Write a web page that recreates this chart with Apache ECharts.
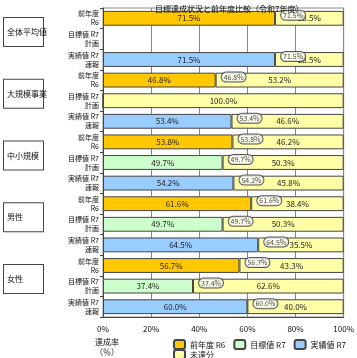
<!DOCTYPE html>
<html><head><meta charset="utf-8">
<script src="https://cdn.jsdelivr.net/npm/echarts@6/dist/echarts.min.js"></script>
<style>html,body{margin:0;padding:0;background:#fff}#c{width:357px;height:358px}</style>
</head><body><div id="c"></div>
<script>
const titleText = '目標達成状況と前年度比較（令和7年度）';
const groups = ['全体平均値', '大規模事業', '中小規模', '男性', '女性'];
const rowNames = ['前年度\nR6', '目標値 R7\n計画', '実績値 R7\n速報'];
const seriesNames = ['前年度 R6', '目標値 R7', '実績値 R7', '未達分'];
const bubbleName = '達成率\n（％）';
const orangeVals = [71.5, 46.8, 53.8, 61.6, 56.7];
const greenVals  = [null, 0, 49.7, 49.7, 37.4];
const blueVals   = [71.5, 53.4, 54.2, 64.5, 60.0];
const yellowOrange = [28.5, 53.2, 46.2, 38.4, 43.3];
const yellowGreen  = [null, 100, 50.3, 50.3, 62.6];
const yellowBlue   = [28.5, 46.6, 45.8, 35.5, 40.0];
const xTicks = [0, 20, 40, 60, 80, 100];

const colors = ['#FFC800', '#CCFFCC', '#99CCFF', '#FFFFA8'];
const rowIdx = [];
for (let g = 0; g < groups.length; g++) for (let r = 0; r < 3; r++) rowIdx.push(String(g * 3 + r));
const colored = [orangeVals, greenVals, blueVals];
const yellows = [yellowOrange, yellowGreen, yellowBlue];
function rowData(arr, r) {
  return rowIdx.map((_, i) => (i % 3 === r ? arr[Math.floor(i / 3)] : null));
}
const yellowData = rowIdx.map((_, i) => yellows[i % 3][Math.floor(i / 3)]);
const bubbleData = [];
rowIdx.forEach((_, i) => {
  const v = colored[i % 3][Math.floor(i / 3)];
  if (v != null && v > 0) bubbleData.push([v, i]);
});

const segLabel = {
  show: true, position: 'inside', fontSize: 8, color: '#222',
  formatter: p => (p.value == null || p.value === 0 ? '' : p.value.toFixed(1) + '%')
};
const barCommon = {
  type: 'bar', stack: 'total', barWidth: '72%',
  label: segLabel
};
const series = [];
for (let r = 0; r < 3; r++) {
  series.push(Object.assign({}, barCommon, {
    name: seriesNames[r], data: rowData(colored[r], r), itemStyle: { color: colors[r], borderColor: '#444', borderWidth: 1 }
  }));
}
series.push(Object.assign({}, barCommon, {
  name: seriesNames[3], data: yellowData, itemStyle: { color: colors[3], borderColor: '#444', borderWidth: 1 }
}));
series.push({
  type: 'scatter', name: bubbleName, data: bubbleData, symbolSize: 0, z: 5,
  itemStyle: { color: '#fff' },
  label: {
    show: true, position: 'right', offset: [1, -3], fontSize: 7, color: '#111',
    backgroundColor: '#fff', borderColor: '#333', borderWidth: 1, borderRadius: 5, padding: [1, 2],
    formatter: p => p.value[0].toFixed(1) + '%'
  }
});

const legendText = { fontSize: 8, color: '#111', lineHeight: 10 };
const chart = echarts.init(document.getElementById('c'), null, { renderer: 'canvas' });
chart.setOption({
  animation: false,
  textStyle: { fontFamily: '"Noto Sans CJK JP", sans-serif' },
  title: { text: titleText, left: 150, top: 0, textStyle: { fontSize: 8, fontWeight: 'normal', color: '#111' } },
  legend: [
    { data: [{ name: bubbleName, icon: 'none' }], left: 90, top: 337, padding: 0, itemWidth: 0, itemHeight: 0,
      textStyle: legendText },
    { data: seriesNames.slice(0, 3), left: 173, top: 339, padding: 0, itemWidth: 11, itemHeight: 9, itemGap: 8,
      textStyle: legendText },
    { data: seriesNames.slice(3), left: 173, top: 349, padding: 0, itemWidth: 11, itemHeight: 9,
      textStyle: legendText }
  ],
  grid: { left: 102, right: 12, top: 8, bottom: 41, show: true, borderColor: '#888', borderWidth: 1 },
  xAxis: {
    type: 'value', min: xTicks[0], max: xTicks[xTicks.length - 1], interval: xTicks[1] - xTicks[0],
    axisLine: { show: true, lineStyle: { color: '#444' } },
    axisTick: { show: false },
    splitLine: { lineStyle: { color: '#888' } },
    axisLabel: { fontSize: 8, color: '#111', formatter: '{value}%' }
  },
  yAxis: [
    {
      type: 'category', data: rowIdx, inverse: true,
      axisLine: { lineStyle: { color: '#444' } },
      axisTick: { show: true, length: 3, lineStyle: { color: '#444' } },
      axisLabel: { fontSize: 7, color: '#111', lineHeight: 9, margin: 4,
        formatter: v => rowNames[Number(v) % 3] }
    },
    {
      type: 'category', data: groups, inverse: true, position: 'left', offset: 54,
      axisLine: { show: false }, axisTick: { show: false },
      axisLabel: { margin: 6, verticalAlign: 'middle', align: 'right',
        formatter: v => '{box|' + v + '}\n{sp|}',
        rich: {
          box: { fontSize: 8, color: '#111', backgroundColor: '#fff', borderColor: '#444', borderWidth: 1,
            width: 33, height: 28, lineHeight: 28, padding: [0, 3], align: 'left' },
          sp: { height: 14, lineHeight: 14 }
        } }
    }
  ],
  series: series
});
</script></body></html>
